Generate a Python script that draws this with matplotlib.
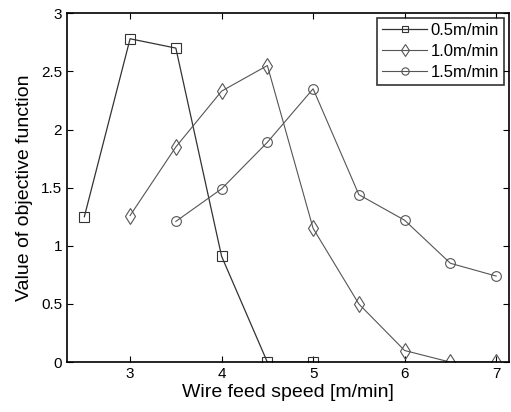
import matplotlib
matplotlib.use('Agg')
import matplotlib.pyplot as plt

# data
x_05 = [2.5, 3, 3.5, 4, 4.5, 5]
y_05 = [1.25, 2.78, 2.70, 0.91, 0, 0]
x_10 = [3, 3.5, 4, 4.5, 5, 5.5, 6, 6.5, 7]
y_10 = [1.26, 1.85, 2.33, 2.55, 1.15, 0.50, 0.10, 0, 0]
x_15 = [3.5, 4, 4.5, 5, 5.5, 6, 6.5, 7]
y_15 = [1.21, 1.49, 1.89, 2.35, 1.44, 1.22, 0.85, 0.74]
labels = ['0.5m/min', '1.0m/min', '1.5m/min']

plt.rcParams['font.family'] = ['Liberation Sans', 'DejaVu Sans']

fig = plt.figure(figsize=(5.11, 4.12), dpi=100)
ax = fig.add_axes([0.131, 0.121, 0.865, 0.847])

ax.plot(x_05, y_05, color='#333333', lw=0.9, marker='s', ms=6.5, mfc='none', mec='#333333', mew=0.8, label=labels[0])
ax.plot(x_10, y_10, color='#555555', lw=0.8, marker='d', ms=8, mfc='none', mec='#555555', mew=0.8, label=labels[1])
ax.plot(x_15, y_15, color='#555555', lw=0.8, marker='o', ms=7, mfc='none', mec='#555555', mew=0.8, label=labels[2])

ax.set_xlim(2.31, 7.14)
ax.set_ylim(0, 3)
ax.set_xticks([3, 4, 5, 6, 7])
ax.set_yticks([0, 0.5, 1, 1.5, 2, 2.5, 3])
ax.set_yticklabels(['0', '0.5', '1', '1.5', '2', '2.5', '3'])
ax.tick_params(direction='in', labelsize=11, top=True, right=True, length=4, width=0.8)
for s in ax.spines.values():
    s.set_linewidth(1.2)

ax.set_xlabel('Wire feed speed [m/min]', fontsize=14, labelpad=2)
ax.set_ylabel('Value of objective function', fontsize=14, labelpad=6)

leg = ax.legend(loc='upper right', fontsize=12, frameon=True, fancybox=False,
                edgecolor='black', handlelength=2.7, borderpad=0.3, labelspacing=0.35,
                handletextpad=0.2, borderaxespad=0.3, markerscale=0.75)
leg.get_frame().set_linewidth(1.2)

fig.savefig('out.png', dpi=100)
